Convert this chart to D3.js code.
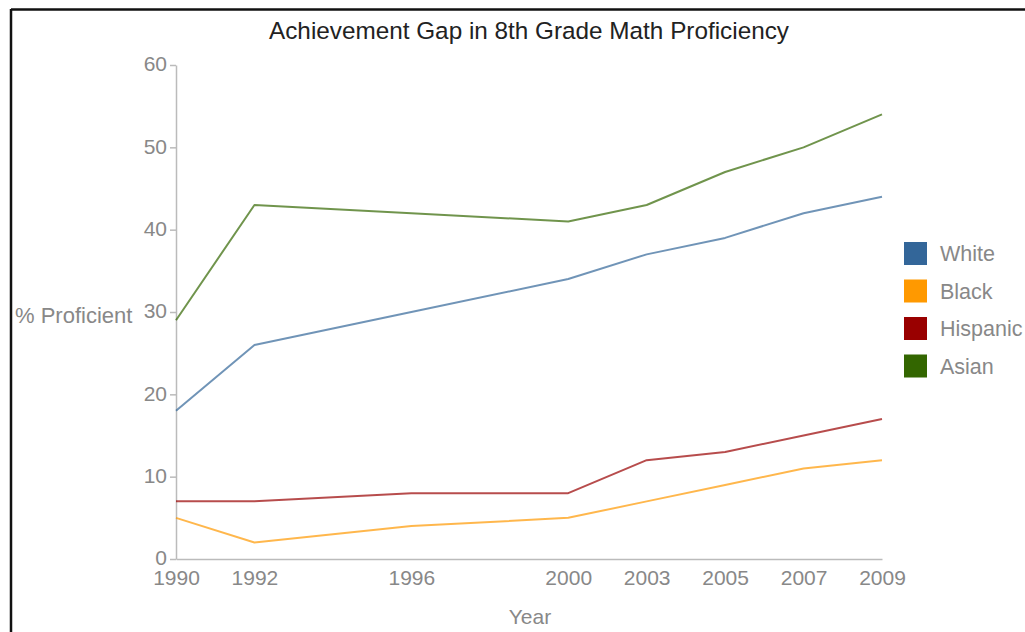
<!DOCTYPE html>
<html>
<head>
<meta charset="utf-8">
<script src="https://cdn.jsdelivr.net/npm/d3@7"></script>
<style>
  html, body { margin: 0; padding: 0; background: #fff; }
  svg { display: block; font-family: "Liberation Sans", Arial, Helvetica, sans-serif; }
</style>
</head>
<body>
<svg id="chart" width="1025" height="632"></svg>
<script>
// Survey years and % of 8th graders at or above Proficient in math
const years = [1990, 1992, 1996, 2000, 2003, 2005, 2007, 2009];
const groups = ["White", "Black", "Hispanic", "Asian"];
const white    = [18, 26, 30, 34, 37, 39, 42, 44];
const black    = [5, 2, 4, 5, 7, 9, 11, 12];
const hispanic = [7, 7, 8, 8, 12, 13, 15, 17];
const asian    = [29, 43, 42, 41, 43, 47, 50, 54];
const yTicks = [0, 10, 20, 30, 40, 50, 60];
const titleText = "Achievement Gap in 8th Grade Math Proficiency";

const seriesValues = { White: white, Black: black, Hispanic: hispanic, Asian: asian };
const colors = { White: "#336699", Black: "#ff9900", Hispanic: "#990000", Asian: "#336600" };
const labelFont = "Liberation Sans, Arial, sans-serif";

const svg = d3.select("#chart");

// frame edges
svg.append("line").attr("x1", 11).attr("x2", 1025).attr("y1", 9.5).attr("y2", 9.5)
  .attr("stroke", "#111").attr("stroke-width", 2.5);
svg.append("line").attr("x1", 11).attr("x2", 11).attr("y1", 9).attr("y2", 632)
  .attr("stroke", "#111").attr("stroke-width", 2.5);

const plotLeft = 176, plotRight = 882, plotTop = 65, plotBottom = 559;

// year axis: the 2000–2003 stretch is compressed relative to the others
const x = d3.scaleLinear()
  .domain([1990, 2000, 2003, 2009])
  .range([plotLeft,
          plotLeft + (plotRight - plotLeft) * 5 / 9,
          plotLeft + (plotRight - plotLeft) * 6 / 9,
          plotRight]);
const y = d3.scaleLinear().domain([0, 60]).range([plotBottom, plotTop]);

// title
svg.append("text")
  .attr("x", 529).attr("y", 39)
  .attr("text-anchor", "middle")
  .attr("font-size", 24.3)
  .attr("fill", "#222")
  .text(titleText);

// y axis
const yAxis = svg.append("g")
  .attr("transform", `translate(${plotLeft},0)`)
  .call(d3.axisLeft(y).tickValues(yTicks).tickSize(6).tickPadding(3).tickSizeOuter(0));
yAxis.select(".domain").attr("stroke", "#bbb").attr("stroke-width", 1.5);
yAxis.selectAll(".tick line").attr("stroke", "#bbb").attr("stroke-width", 1.5);
yAxis.selectAll(".tick text").attr("fill", "#888").attr("font-size", 21)
  .attr("font-family", labelFont).attr("dy", "0.28em");

// x axis
const xAxis = svg.append("g")
  .attr("transform", `translate(0,${plotBottom})`)
  .call(d3.axisBottom(x).tickValues(years).tickFormat(d3.format("d")).tickSize(0).tickPadding(11).tickSizeOuter(0));
xAxis.select(".domain").attr("stroke", "#bbb").attr("stroke-width", 1.5);
xAxis.selectAll(".tick text").attr("fill", "#888").attr("font-size", 21)
  .attr("font-family", labelFont);

// axis titles
svg.append("text")
  .attr("x", 15).attr("y", 323)
  .attr("font-size", 22).attr("fill", "#888")
  .text("% Proficient");
svg.append("text")
  .attr("x", 530).attr("y", 624)
  .attr("text-anchor", "middle")
  .attr("font-size", 21).attr("fill", "#888")
  .text("Year");

// series lines
const line = d3.line()
  .x((d, i) => x(years[i]))
  .y(d => y(d));

groups.forEach(g => {
  svg.append("path")
    .datum(seriesValues[g])
    .attr("d", line)
    .attr("fill", "none")
    .attr("stroke", colors[g])
    .attr("stroke-opacity", 0.7)
    .attr("stroke-width", 2)
    .attr("stroke-linejoin", "round");
});

// legend
const legend = svg.append("g").attr("transform", "translate(904,242)");
groups.forEach((g, i) => {
  const row = legend.append("g").attr("transform", `translate(0,${i * 37.5})`);
  row.append("rect").attr("width", 23).attr("height", 23).attr("fill", colors[g]);
  row.append("text").attr("x", 36).attr("y", 19)
    .attr("font-size", 21.5).attr("fill", "#888").text(g);
});
</script>
</body>
</html>
